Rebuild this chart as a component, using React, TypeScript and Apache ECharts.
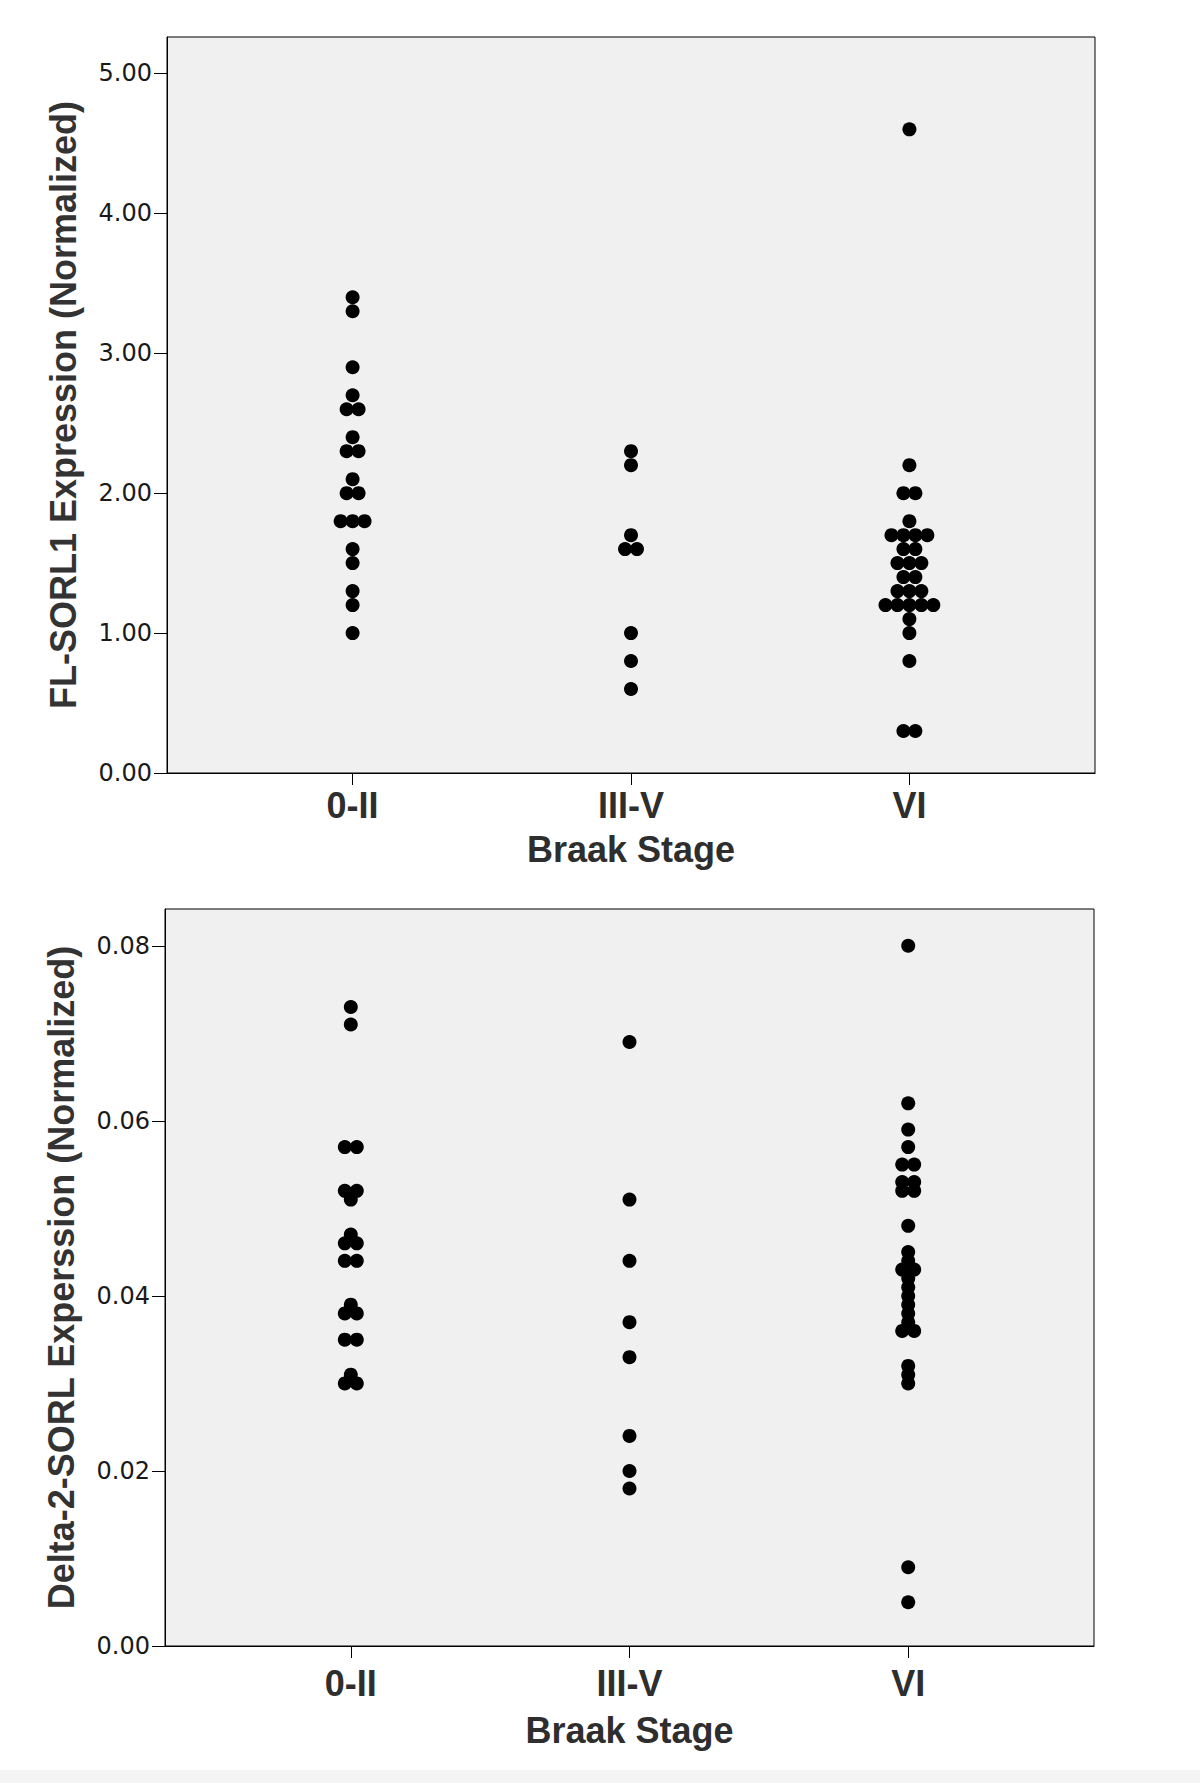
import React, { useEffect, useRef } from "react";
import * as echarts from "echarts";

const CATEGORIES = ["0-II", "III-V", "VI"];
const X_TITLE = "Braak Stage";
const FL_TITLE = "FL-SORL1 Expression (Normalized)";
const D2_TITLE = "Delta-2-SORL Experssion (Normalized)";

const FL_TICKS = [0, 1, 2, 3, 4, 5];
const D2_TICKS = [0, 0.02, 0.04, 0.06, 0.08];

// FL-SORL1 values per Braak stage
const FL_0II = [3.4, 3.3, 2.9, 2.7, 2.6, 2.6, 2.4, 2.3, 2.3, 2.1, 2.0, 2.0, 1.8, 1.8, 1.8, 1.6, 1.5, 1.3, 1.2, 1.0];
const FL_IIIV = [2.3, 2.2, 1.7, 1.6, 1.6, 1.0, 0.8, 0.6];
const FL_VI = [4.6, 2.2, 2.0, 2.0, 1.8, 1.7, 1.7, 1.7, 1.7, 1.6, 1.6, 1.5, 1.5, 1.5, 1.4, 1.4, 1.3, 1.3, 1.3, 1.2, 1.2, 1.2, 1.2, 1.2, 1.1, 1.0, 0.8, 0.3, 0.3];

// Delta-2-SORL values per Braak stage
const D2_0II = [0.073, 0.071, 0.057, 0.057, 0.052, 0.052, 0.051, 0.047, 0.046, 0.046, 0.044, 0.044, 0.039, 0.038, 0.038, 0.035, 0.035, 0.031, 0.030, 0.030];
const D2_IIIV = [0.069, 0.051, 0.044, 0.037, 0.033, 0.024, 0.020, 0.018];
const D2_VI = [0.080, 0.062, 0.059, 0.057, 0.055, 0.055, 0.053, 0.053, 0.052, 0.052, 0.048, 0.045, 0.044, 0.043, 0.043, 0.042, 0.041, 0.040, 0.039, 0.038, 0.037, 0.036, 0.036, 0.032, 0.031, 0.030, 0.009, 0.005];

const X_MIN = -2 / 3;
const X_MAX = 2 + 2 / 3;
const DOT_STEP = 0.043; // horizontal spacing of stacked dots, in category units

function stackDots(groups: number[][]): number[][] {
  const out: number[][] = [];
  groups.forEach((vals, ci) => {
    const counts = new Map<number, number>();
    vals.forEach((v) => counts.set(v, (counts.get(v) || 0) + 1));
    counts.forEach((n, v) => {
      for (let i = 0; i < n; i++) {
        out.push([ci + (i - (n - 1) / 2) * DOT_STEP, v]);
      }
    });
  });
  return out;
}

const labelFont = {
  fontFamily: "Liberation Sans",
  fontWeight: "bold" as const,
  fontSize: 36,
  color: "#2e2e2e",
};

function makeX(gridIndex: number, labelMargin: number, nameGap: number) {
  return {
    gridIndex,
    type: "value",
    min: X_MIN,
    max: X_MAX,
    splitLine: { show: false },
    axisLine: { show: true, onZero: false, lineStyle: { color: "#000", width: 1 } },
    axisTick: {
      show: true,
      customValues: [0, 1, 2],
      length: 12,
      inside: false,
      lineStyle: { color: "#000", width: 1 },
    },
    axisLabel: {
      customValues: [0, 1, 2],
      formatter: (v: number) => CATEGORIES[Math.round(v)] ?? "",
      margin: labelMargin,
      ...labelFont,
    },
    name: X_TITLE,
    nameLocation: "middle",
    nameGap,
    nameTextStyle: { ...labelFont },
  };
}

function makeY(gridIndex: number, max: number, ticks: number[], title: string) {
  return {
    gridIndex,
    type: "value",
    min: 0,
    max,
    splitLine: { show: false },
    axisLine: { show: true, onZero: false, lineStyle: { color: "#000", width: 1 } },
    axisTick: {
      show: true,
      customValues: ticks,
      length: 13,
      lineStyle: { color: "#000", width: 1 },
    },
    axisLabel: {
      customValues: ticks,
      formatter: (v: number) => v.toFixed(2),
      margin: 15,
      fontFamily: "DejaVu Sans",
      fontSize: 24,
      color: "#1a1a1a",
    },
    name: title,
    nameLocation: "middle",
    nameGap: 86,
    nameTextStyle: { ...labelFont, fontSize: 36, color: "#333" },
  };
}

export default function App() {
  const ref = useRef<HTMLDivElement>(null);
  useEffect(() => {
    if (!ref.current) return;
    const chart = echarts.init(ref.current, null, { renderer: "svg" });
    const gridStyle = {
      show: true,
      backgroundColor: "#f0f0f0",
      borderColor: "#000",
      borderWidth: 1,
    };
    const dotStyle = { color: "#000", opacity: 1 };
    chart.setOption({
      animation: false,
      backgroundColor: "#ffffff",
      graphic: [
        {
          type: "rect",
          silent: true,
          shape: { x: 0, y: 1770, width: 1200, height: 13 },
          style: { fill: "#f4f4f4" },
        },
      ],
      grid: [
        { left: 167, top: 37, right: 105, height: 736, ...gridStyle },
        { left: 165, top: 909, right: 106, height: 737, ...gridStyle },
      ],
      xAxis: [makeX(0, 14, 58), makeX(1, 19, 66)],
      yAxis: [
        makeY(0, 5.26, FL_TICKS, FL_TITLE),
        makeY(1, 0.0842, D2_TICKS, D2_TITLE),
      ],
      series: [
        {
          type: "scatter",
          xAxisIndex: 0,
          yAxisIndex: 0,
          symbol: "circle",
          symbolSize: 14,
          itemStyle: dotStyle,
          data: stackDots([FL_0II, FL_IIIV, FL_VI]),
        },
        {
          type: "scatter",
          xAxisIndex: 1,
          yAxisIndex: 1,
          symbol: "circle",
          symbolSize: 14,
          itemStyle: dotStyle,
          data: stackDots([D2_0II, D2_IIIV, D2_VI]),
        },
      ],
    });
    return () => chart.dispose();
  }, []);
  return (
    <div
      ref={ref}
      style={{ position: "absolute", left: 0, top: 0, width: 1200, height: 1783 }}
    />
  );
}
